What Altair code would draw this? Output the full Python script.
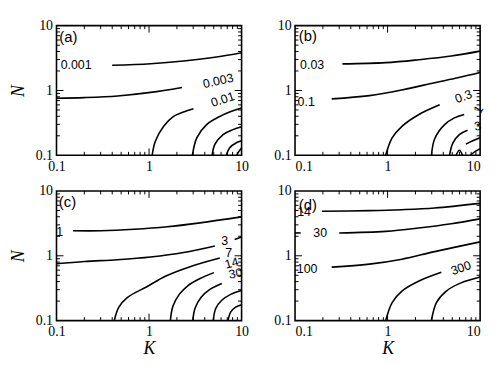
import altair as alt
import pandas as pd

# ---------------- data (K, N values) ----------------
# panel (a)
A_CURVES = {
    "a1": ([0.40, 1.04, 2.36, 5.36, 10.0], [2.45, 2.59, 2.85, 3.28, 3.82]),
    "a2": ([0.10, 0.20, 0.457, 1.04, 2.27], [0.757, 0.776, 0.824, 0.935, 1.115]),
    "a3": ([1.08, 1.17, 1.44, 1.84, 2.36, 3.02], [0.10, 0.165, 0.28, 0.398, 0.466, 0.522]),
    "a4": ([2.94, 3.28, 4.19, 5.82, 8.07, 10.0], [0.10, 0.186, 0.297, 0.398, 0.486, 0.537]),
    "a5": ([4.81, 5.14, 6.31, 8.07, 10.0], [0.10, 0.147, 0.209, 0.249, 0.275]),
    "a6": ([6.83, 7.44, 8.78, 10.0], [0.10, 0.131, 0.156, 0.168]),
    "a7": ([8.85, 9.4, 10.0], [0.10, 0.116, 0.129]),
}
A_LABELS = [("0.001", 0.163, 2.45, 0), ("0.003", 5.58, 1.40, 347), ("0.01", 6.26, 0.724, 342)]

# panel (b)
B_CURVES = {
    "b1": ([0.325, 0.953, 2.16, 4.87, 10.0], [2.57, 2.69, 2.98, 3.40, 4.05]),
    "b2": ([0.249, 0.636, 1.43, 3.23, 5.73, 10.0], [0.742, 0.833, 1.02, 1.32, 1.57, 1.89]),
    "b3": ([0.953, 1.12, 1.43, 2.16, 3.66], [0.10, 0.186, 0.28, 0.423, 0.601]),
    "b4": ([2.98, 3.23, 4.13, 5.27, 6.73], [0.10, 0.180, 0.297, 0.378, 0.427]),
    "b5": ([4.67, 5.07, 5.96, 7.31], [0.10, 0.154, 0.208, 0.243]),
    "b6": ([7.02, 8.32, 10.0], [0.149, 0.168, 0.187]),
    "b7": ([7.80, 8.96, 10.0], [0.10, 0.116, 0.127]),
    "b8": ([5.50, 5.96, 6.47], [0.10, 0.12, 0.10]),
}
B_LABELS = [("0.03", 0.153, 2.50, 0), ("0.1", 0.132, 0.675, 0), ("0.3", 6.6, 0.804, 340),
            ("1", 9.64, 0.509, 300), ("3", 9.4, 0.28, 350)]

# panel (c)
C_CURVES = {
    "c1": ([0.151, 0.303, 0.688, 1.57, 3.56, 10.0], [2.43, 2.43, 2.56, 2.80, 3.22, 3.98]),
    "c2": ([0.10, 0.20, 0.457, 1.04, 2.36, 5.14], [0.755, 0.818, 0.869, 0.955, 1.12, 1.42]),
    "c2b": ([8.41, 10.0], [1.79, 1.95]),
    "c3": ([0.421, 0.472, 0.585, 0.957, 1.50, 2.78, 5.82], [0.10, 0.161, 0.228, 0.336, 0.483, 0.679, 0.922]),
    "c4": ([1.70, 1.81, 2.12, 2.64, 3.56, 5.02], [0.10, 0.166, 0.254, 0.348, 0.446, 0.55]),
    "c5": ([2.97, 3.14, 3.64, 4.55, 6.11], [0.10, 0.155, 0.228, 0.303, 0.374]),
    "c6": ([4.93, 5.27, 6.11, 7.62, 10.0], [0.10, 0.155, 0.206, 0.254, 0.292]),
    "c7": ([7.13, 7.62, 8.63, 10.0], [0.10, 0.135, 0.161, 0.175]),
}
C_LABELS = [("1", 0.108, 2.35, 0), ("3", 6.58, 1.66, 0), ("7", 7.26, 1.09, 0),
            ("14", 7.82, 0.768, 345), ("30", 8.63, 0.531, 350)]

# panel (d)
D_CURVES = {
    "d1": ([0.195, 0.636, 1.43, 3.23, 10.0], [4.86, 4.97, 5.14, 5.46, 6.43]),
    "d2": ([0.300, 0.953, 2.16, 4.87, 10.0], [2.25, 2.38, 2.68, 3.12, 3.71]),
    "d2b": ([0.10, 0.115], [2.25, 2.25]),
    "d3": ([0.249, 0.636, 1.43, 3.23, 10.0], [0.669, 0.743, 0.885, 1.16, 1.64]),
    "d4": ([0.953, 1.12, 1.43, 2.16, 3.81], [0.10, 0.19, 0.286, 0.405, 0.556]),
    "d5": ([2.98, 3.37, 4.31, 6.21, 10.0], [0.10, 0.19, 0.286, 0.382, 0.471]),
}
D_LABELS = [("14", 0.125, 4.69, 0), ("30", 0.187, 2.25, 0), ("100", 0.135, 0.624, 0),
            ("300", 6.21, 0.646, 340)]

TAGS = {"a": (0.107, 6.63), "b": (0.110, 6.87), "c": (0.106, 6.85), "d": (0.110, 6.0)}

MINOR = [0.2, 0.3, 0.4, 0.5, 0.6, 0.7, 0.8, 0.9, 2, 3, 4, 5, 6, 7, 8, 9]
MAJOR = [1]
AXIS_VALUES = [0.1, 1, 10]
LABEL_EXPR = "datum.value < 0.5 ? '0.1' : (datum.value < 5 ? '1' : '10')"

W, H = 187, 131
SERIF = "Liberation Serif"
SANS = "Liberation Sans"


def make_axis(title, flush, is_y):
    kw = dict(values=AXIS_VALUES, labelExpr=LABEL_EXPR, tickSize=0, domainOpacity=0, gridOpacity=0,
              labelFont=SERIF, labelFontSize=14, labelColor="black", labelPadding=4)
    if not is_y:
        kw["labelFlush"] = flush
    if title:
        kw.update(title=title, titleFont=SERIF, titleFontStyle="italic", titleFontSize=18,
                  titleFontWeight="normal", titleColor="black", titlePadding=(8 if is_y else 1))
    else:
        kw["title"] = None
    return alt.Axis(**kw)


def panel(curves, labels, tag, ytitle, xtitle, flush):
    xs = alt.Scale(type="log", domain=[0.1, 10], nice=False)
    ys = alt.Scale(type="log", domain=[0.1, 10], nice=False)
    xax = make_axis("K" if xtitle else None, flush, False)
    yax = make_axis("N" if ytitle else None, flush, True)
    X = lambda: alt.X("K:Q", scale=xs, axis=xax)
    Y = lambda: alt.Y("N:Q", scale=ys, axis=yax)

    rows = []
    for name, (ks, ns) in curves.items():
        for i, (k, n) in enumerate(zip(ks, ns)):
            rows.append({"c": name, "i": i, "K": k, "N": n})
    df = pd.DataFrame(rows)
    ldf = pd.DataFrame(labels, columns=["t", "K", "N", "a"])
    tk, tn = TAGS[tag]
    tdf = pd.DataFrame({"t": ["(" + tag + ")"], "K": [tk], "N": [tn]})

    lines = alt.Chart(df).mark_line(color="black", strokeWidth=1.6, interpolate="catmull-rom").encode(
        x=X(), y=Y(), detail="c:N", order="i:Q")
    text = alt.Chart(ldf).mark_text(font=SANS, fontSize=12.5, color="black").encode(
        x=X(), y=Y(), text="t:N", angle=alt.Angle("a:Q", scale=None))
    tagm = alt.Chart(tdf).mark_text(font=SANS, fontSize=15, color="black", align="left").encode(
        x=X(), y=Y(), text="t:N")

    layers = [lines, text, tagm]
    for vals, L in ((MINOR, 3.5), (MAJOR, 7)):
        tx = pd.DataFrame({"K": vals})
        ty = pd.DataFrame({"N": vals})
        bx = alt.Chart(tx).mark_rule(color="black", strokeWidth=1)
        by = alt.Chart(ty).mark_rule(color="black", strokeWidth=1)
        layers.append(bx.encode(x=X(), y=alt.value(H), y2=alt.value(H - L)))
        layers.append(bx.encode(x=X(), y=alt.value(0), y2=alt.value(L)))
        layers.append(by.encode(y=Y(), x=alt.value(0), x2=alt.value(L)))
        layers.append(by.encode(y=Y(), x=alt.value(W), x2=alt.value(W - L)))
    return alt.layer(*layers).properties(width=W, height=H)


pa = panel(A_CURVES, A_LABELS, "a", True, False, False)
pb = panel(B_CURVES, B_LABELS, "b", False, False, True)
pc = panel(C_CURVES, C_LABELS, "c", True, True, False)
pd_ = panel(D_CURVES, D_LABELS, "d", False, True, True)

chart = alt.concat(pa, pb, pc, pd_, columns=2, align="each",
                   spacing=alt.RowColnumber(row=9, column=23)).properties(
    padding={"left": 0, "top": 8, "right": 5, "bottom": 5}
).configure_view(stroke="black", strokeWidth=1.6)

chart.save("out.html", embed_options={"renderer": "svg", "actions": False})
